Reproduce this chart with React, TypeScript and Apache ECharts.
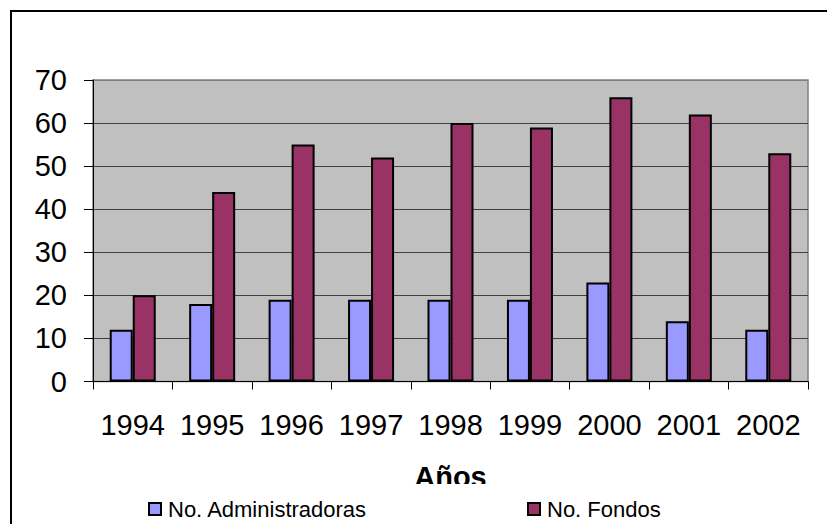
import React, { useEffect, useRef } from "react";
import * as echarts from "echarts";

const categories = ["1994", "1995", "1996", "1997", "1998", "1999", "2000", "2001", "2002"];
const administradoras = [12, 18, 19, 19, 19, 19, 23, 14, 12];
const fondos = [20, 44, 55, 52, 60, 59, 66, 62, 53];
const seriesNames = ["No. Administradoras", "No. Fondos"];
const axisTitle = "Años";

const FONT = "'Liberation Sans', Arial, sans-serif";

export default function App() {
  const ref = useRef<HTMLDivElement>(null);
  useEffect(() => {
    if (!ref.current) return;
    const chart = echarts.init(ref.current, undefined, { renderer: "svg" });
    chart.setOption({
      animation: false,
      backgroundColor: "#ffffff",
      textStyle: { fontFamily: FONT, color: "#000" },
      grid: {
        left: 93,
        right: 19,
        top: 80,
        bottom: 142.5,
        show: true,
        backgroundColor: "#C0C0C0",
        borderColor: "#808080",
        borderWidth: 1.5,
        containLabel: false,
      },
      xAxis: {
        type: "category",
        data: categories,
        boundaryGap: true,
        name: axisTitle,
        nameLocation: "middle",
        nameGap: 81,
        nameTextStyle: { fontFamily: FONT, fontSize: 29, fontWeight: "bold", color: "#000" },
        axisLine: { show: true, lineStyle: { color: "#000", width: 1 } },
        axisTick: { show: true, length: 8, alignWithLabel: false, lineStyle: { color: "#000" } },
        axisLabel: { interval: 0, margin: 29, fontSize: 29, fontFamily: FONT, color: "#000" },
        splitLine: { show: false },
      },
      yAxis: {
        type: "value",
        min: 0,
        max: 70,
        interval: 10,
        axisLine: { show: true, lineStyle: { color: "#000", width: 1 } },
        axisTick: { show: true, length: 9, lineStyle: { color: "#000" } },
        axisLabel: { margin: 26, fontSize: 29, fontFamily: FONT, color: "#000" },
        splitLine: {
          show: true,
          lineStyle: {
            color: ["#404040", "#404040", "#404040", "#404040", "#404040", "#404040", "#404040", "#808080"],
            width: 1,
          },
        },
      },
      legend: [
        {
          data: [seriesNames[0]],
          left: 148,
          top: 498,
          itemWidth: 12,
          itemHeight: 12,
          itemGap: 0,
          z: 200,
          icon: "rect",
          textStyle: { fontFamily: FONT, fontSize: 22, color: "#000", padding: [0, 0, 0, 2] },
          padding: 0,
        },
        {
          data: [seriesNames[1]],
          left: 527,
          top: 498,
          itemWidth: 12,
          itemHeight: 12,
          itemGap: 0,
          z: 200,
          icon: "rect",
          textStyle: { fontFamily: FONT, fontSize: 22, color: "#000", padding: [0, 0, 0, 2] },
          padding: 0,
        },
      ],
      graphic: [
        {
          type: "rect",
          z: 100,
          shape: { x: 12, y: 484, width: 815, height: 40 },
          style: { fill: "#ffffff" },
        },
        {
          type: "polyline",
          z: 150,
          shape: { points: [[11, 524], [11, 11], [827, 11]] },
          style: { stroke: "#000", lineWidth: 2, fill: "none" },
        },
      ],
      series: [
        {
          name: seriesNames[0],
          type: "bar",
          data: administradoras,
          barWidth: 23,
          barGap: "0%",
          itemStyle: { color: "#9999FF", borderColor: "#000", borderWidth: 2 },
        },
        {
          name: seriesNames[1],
          type: "bar",
          data: fondos,
          barWidth: 23,
          barGap: "0%",
          itemStyle: { color: "#993366", borderColor: "#000", borderWidth: 2 },
        },
      ],
    });
    return () => chart.dispose();
  }, []);
  return (
    <div
      ref={ref}
      style={{ position: "fixed", left: 0, top: 0, width: 827, height: 524 }}
    />
  );
}
